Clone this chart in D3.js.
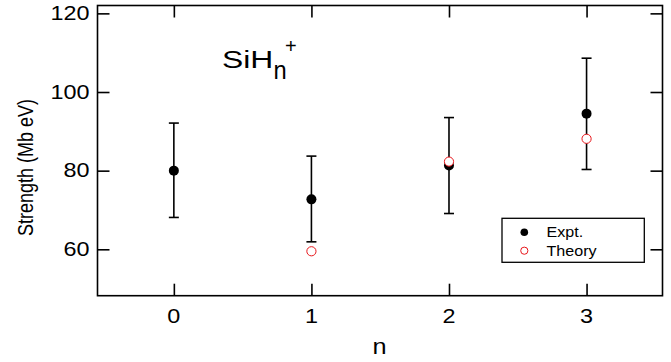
<!DOCTYPE html>
<html><head><meta charset="utf-8">
<script src="https://cdn.jsdelivr.net/npm/d3@7"></script>
<style>body{margin:0;background:#fff}svg{display:block}text{font-family:"Liberation Sans",Arial,Helvetica,sans-serif;fill:#000}</style>
</head><body>
<script>
const nValues = [0, 1, 2, 3];
const exptValues = [80.0, 72.7, 81.3, 94.5];
const exptLow = [68.1, 61.9, 69.1, 80.3];
const exptHigh = [92.1, 83.7, 93.5, 108.6];
const theoryN = [1, 2, 3];
const theoryValues = [59.5, 82.3, 88.1];
const yTicks = [60, 80, 100, 120];
const xTicks = [0, 1, 2, 3];
const legendLabels = ["Expt.", "Theory"];

const W = 671, H = 362;
const svg = d3.select("body").append("svg").attr("width", W).attr("height", H);
const x = d3.scaleLinear().domain([-0.555, 3.552]).range([97.5, 662.5]);
const y = d3.scaleLinear().domain([48.2, 122]).range([295.7, 5.5]);
const L = x.range()[0], R = x.range()[1], T = y.range()[1], B = y.range()[0];

function stext(str, tx, ty, size, anchor, sx, rot) {
  return svg.append("text")
    .attr("transform", `translate(${tx},${ty}) scale(${sx},1)` + (rot ? ` rotate(${rot})` : ""))
    .attr("text-anchor", anchor || "start")
    .style("font-size", size + "px")
    .text(str);
}

const TL = 12;
svg.append("g").attr("transform", `translate(${L},0)`)
  .call(d3.axisRight(y).tickValues(yTicks).tickSize(TL).tickFormat(""));
svg.append("g").attr("transform", `translate(${R},0)`)
  .call(d3.axisLeft(y).tickValues(yTicks).tickSize(TL).tickFormat(""));
svg.append("g").attr("transform", `translate(0,${B})`)
  .call(d3.axisTop(x).tickValues(xTicks).tickSize(TL).tickFormat(""));
svg.append("g").attr("transform", `translate(0,${T})`)
  .call(d3.axisBottom(x).tickValues(xTicks).tickSize(TL).tickFormat(""));
svg.selectAll(".domain").remove();
svg.selectAll(".tick line").attr("stroke", "#000").attr("stroke-width", 1.6);
svg.append("rect").attr("x", L).attr("y", T).attr("width", R - L).attr("height", B - T)
  .attr("fill", "none").attr("stroke", "#000").attr("stroke-width", 1.6);

yTicks.forEach(v => stext(String(v), 89.5, y(v) + 6.8, 19.5, "end", 1.2));
xTicks.forEach(v => stext(String(v), x(v), 323, 19.5, "middle", 1.2));

stext("n", 379.5, 354, 22, "middle", 1.15);
stext("Strength (Mb eV)", 33, 167.5, 18, "middle", 1.22, -90);

const cap = 5;
nValues.forEach((n, i) => {
  const cx = x(n);
  svg.append("line").attr("x1", cx).attr("x2", cx).attr("y1", y(exptLow[i])).attr("y2", y(exptHigh[i]))
    .attr("stroke", "#000").attr("stroke-width", 1.6);
  [exptLow[i], exptHigh[i]].forEach(v => svg.append("line")
    .attr("x1", cx - cap).attr("x2", cx + cap).attr("y1", y(v)).attr("y2", y(v))
    .attr("stroke", "#000").attr("stroke-width", 1.6));
});
svg.selectAll(".expt").data(nValues).enter().append("circle")
  .attr("cx", d => x(d)).attr("cy", (d, i) => y(exptValues[i])).attr("r", 5).attr("fill", "#000");
svg.selectAll(".theory").data(theoryN).enter().append("circle")
  .attr("cx", d => x(d)).attr("cy", (d, i) => y(theoryValues[i])).attr("r", 4.6)
  .attr("fill", "#fff").attr("stroke", "#e8181d").attr("stroke-width", 1);

stext("SiH", 222, 68.3, 24.5, "start", 1.3);
stext("n", 273.5, 79, 25, "start", 0.95);
stext("+", 285, 52.5, 20, "start", 1.0);

svg.append("rect").attr("x", 502).attr("y", 218.3).attr("width", 142.3).attr("height", 44)
  .attr("fill", "#fff").attr("stroke", "#000").attr("stroke-width", 1.3);
svg.append("circle").attr("cx", 524.3).attr("cy", 232.3).attr("r", 3.8).attr("fill", "#000");
svg.append("circle").attr("cx", 524.3).attr("cy", 250.7).attr("r", 3.6).attr("fill", "#fff")
  .attr("stroke", "#e8181d").attr("stroke-width", 1);
stext(legendLabels[0], 546.5, 237, 14, "start", 1.15);
stext(legendLabels[1], 546.5, 255.5, 14, "start", 1.15);
</script>
</body></html>
